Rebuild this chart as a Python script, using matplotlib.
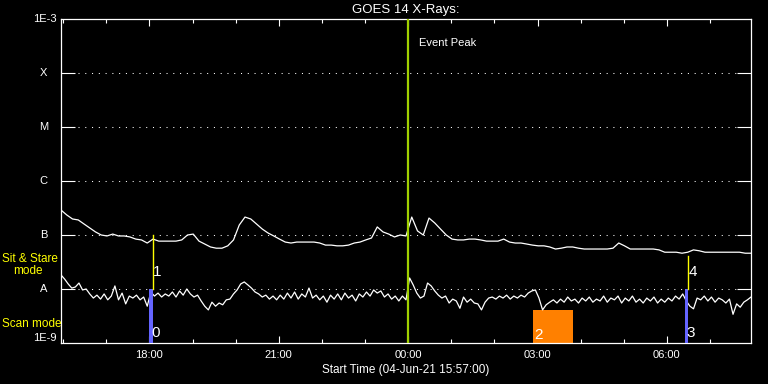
import datetime
import numpy
import matplotlib
matplotlib.use('Agg')
import matplotlib.pyplot as plt
import matplotlib.dates as mdates
import matplotlib.transforms as transforms
from matplotlib.ticker import NullLocator

start = datetime.datetime(2021, 6, 4, 15, 57)
span_minutes = 960

# long channel, 1e-7 W/m^2, one value every 8 minutes
long_step = 8
long_flux = [2.90, 2.35, 1.98, 1.90, 1.60, 1.35, 1.14, 1.00, 0.96, 1.04,
             0.96, 0.96, 0.92, 0.84, 0.81, 0.71, 0.84, 0.77, 0.77, 0.77,
             0.77, 0.81, 1.00, 1.04, 0.77, 0.68, 0.60, 0.57, 0.57, 0.63,
             0.81, 1.53, 2.15, 1.98, 1.60, 1.29, 1.09, 0.96, 0.84, 0.74,
             0.71, 0.74, 0.74, 0.74, 0.74, 0.71, 0.65, 0.65, 0.63, 0.63,
             0.65, 0.71, 0.74, 0.81, 0.88, 1.41, 1.14, 1.04, 0.92, 1.00,
             0.96, 2.15, 1.19, 1.00, 2.06, 1.67, 1.29, 1.00, 0.84, 0.81,
             0.81, 0.84, 0.84, 0.81, 0.77, 0.77, 0.77, 0.84, 0.74, 0.71,
             0.71, 0.68, 0.65, 0.63, 0.63, 0.60, 0.55, 0.57, 0.60, 0.60,
             0.57, 0.55, 0.55, 0.55, 0.55, 0.55, 0.57, 0.71, 0.63, 0.55,
             0.55, 0.55, 0.55, 0.55, 0.53, 0.48, 0.48, 0.48, 0.46, 0.48,
             0.53, 0.51, 0.48, 0.48, 0.48, 0.48, 0.48, 0.48, 0.48, 0.46,
             0.46]

# short channel, 1e-9 W/m^2, one value every 5 minutes
short_step = 5
short_flux = [18.2, 15.3, 12.4, 10.4, 10.9, 12.9, 9.6, 10.0, 8.1, 6.8,
              7.7, 6.5, 8.1, 6.3, 7.4, 11.4, 6.3, 8.4, 5.3, 7.4,
              6.8, 7.7, 6.3, 7.1, 4.8, 8.8, 7.4, 8.4, 7.1, 8.1,
              7.4, 8.8, 7.1, 9.2, 7.7, 10.0, 8.1, 7.1, 7.7, 6.0,
              4.8, 4.1, 5.7, 4.8, 5.5, 5.1, 6.3, 6.5, 8.1, 9.6,
              12.4, 13.5, 11.9, 10.4, 8.8, 8.1, 7.1, 7.7, 6.5, 7.4,
              6.3, 7.7, 6.5, 8.4, 6.8, 8.8, 6.5, 8.1, 7.1, 10.4,
              6.8, 7.7, 6.3, 7.4, 5.7, 7.7, 6.5, 8.1, 6.3, 8.4,
              6.8, 7.7, 6.0, 8.1, 7.1, 8.8, 7.4, 9.6, 8.4, 9.2,
              7.1, 8.1, 6.5, 7.4, 6.0, 7.4, 6.3, 16.0, 11.9, 8.4,
              6.8, 7.4, 12.9, 11.4, 9.2, 7.7, 6.8, 7.4, 5.5, 6.5,
              6.0, 4.4, 7.1, 5.7, 6.5, 5.5, 5.3, 4.1, 5.7, 6.8,
              7.1, 6.5, 7.4, 6.8, 7.7, 6.5, 7.4, 6.8, 7.7, 7.1,
              8.4, 9.2, 9.6, 6.8, 4.1, 5.1, 5.7, 6.3, 5.5, 6.5,
              5.7, 7.1, 6.0, 6.5, 5.5, 6.8, 6.0, 7.1, 5.7, 6.5,
              6.0, 7.4, 5.7, 6.8, 6.3, 7.4, 5.5, 6.8, 6.0, 7.4,
              5.7, 6.5, 5.5, 6.8, 6.0, 7.1, 5.5, 6.5, 5.7, 6.8,
              6.0, 7.4, 6.5, 8.1, 6.0, 4.8, 4.3, 6.8, 6.3, 7.4,
              6.0, 7.1, 5.7, 6.8, 6.3, 5.5, 6.5, 3.4, 5.3, 4.6,
              5.7, 6.3, 7.1]

level_names = ['1E-9', 'A', 'B', 'C', 'M', 'X', '1E-3']
level_values = [1e-9, 1e-8, 1e-7, 1e-6, 1e-5, 1e-4, 1e-3]

peak_minute = 483
# mode changes (minutes from start)
scan_bars = [(123, 128), (868, 873)]
stare_lines = [(128, 1e-7), (872, 4.1e-8)]
orange_box = (657, 712, 4.1e-9)
mark_labels = ['0', '1', '2', '3', '4']
mark_minutes = [131, 134, 664, 876, 879]
mark_flux = [1.5e-9, 2.1e-8, 1.4e-9, 1.5e-9, 2.1e-8]


def at(minutes):
    return start + datetime.timedelta(minutes=float(minutes))


plt.rcParams['font.family'] = ['Liberation Sans', 'DejaVu Sans']

fig = plt.figure(figsize=(7.68, 3.84), dpi=100, facecolor='black')
ax = fig.add_axes([61 / 768, 41 / 384, 690 / 768, 324 / 384], facecolor='black')

t_long = [at(m) for m in numpy.arange(len(long_flux)) * long_step]
t_short = [at(m) for m in numpy.arange(len(short_flux)) * short_step]

ax.plot(t_long, numpy.array(long_flux) * 1e-7, color='white', lw=0.9, zorder=3)
ax.plot(t_short, numpy.array(short_flux) * 1e-9, color='white', lw=0.9, zorder=3)

# dotted class levels
ytrans = transforms.blended_transform_factory(ax.transAxes, ax.transData)
for v in level_values[1:-1]:
    ax.plot([0.025, 0.978], [v, v], color='white', lw=0.75, linestyle=(0, (1, 5.5)),
            transform=ytrans, zorder=1)

for a, b in scan_bars:
    ax.fill_between([at(a), at(b)], 1e-9, 1e-8, color='#6464ff', lw=0, zorder=4)
for m, top in stare_lines:
    ax.plot([at(m), at(m)], [1e-8, top], color='yellow', lw=1.0, zorder=4)
ax.fill_between([at(orange_box[0]), at(orange_box[1])], 1e-9, orange_box[2],
                color='#ff8000', lw=0, zorder=2)
for lab, m, f in zip(mark_labels, mark_minutes, mark_flux):
    ax.text(at(m), f, lab, color='white', fontsize=11, ha='center', va='center', zorder=5)

ax.axvline(at(peak_minute), color='#a0d000', lw=1.6, zorder=5)
ax.text(at(peak_minute + 15), 10 ** -3.45, 'Event Peak', color='white', fontsize=8,
        ha='left', va='center')

ax.set_yscale('log')
ax.set_ylim(1e-9, 1e-3)
ax.set_xlim(at(0), at(span_minutes))
ax.set_yticks(level_values[1:-1])
ax.yaxis.set_minor_locator(NullLocator())
ax.tick_params(axis='y', which='major', direction='in', length=10, width=0.8,
               color='white', left=True, right=True, labelleft=False)

for name, v in zip(level_names, level_values):
    if name.startswith('1E'):
        ax.text(-0.006, v * (1.25 if v < 1e-8 else 1.0), name, color='white', fontsize=8,
                ha='right', va='center', transform=ytrans)
    else:
        ax.text(-0.025, v, name, color='white', fontsize=8, ha='center', va='center',
                transform=ytrans)

ax.xaxis.set_major_locator(mdates.HourLocator(byhour=range(0, 24, 3)))
ax.xaxis.set_minor_locator(mdates.HourLocator())
ax.xaxis.set_major_formatter(mdates.DateFormatter('%H:%M'))
ax.tick_params(axis='x', which='major', direction='in', length=5, width=0.8,
               color='white', top=True, bottom=True, labelcolor='white',
               labelsize=8, pad=5)
ax.tick_params(axis='x', which='minor', direction='in', length=3, width=0.8,
               color='white', top=True, bottom=True)

for s in ax.spines.values():
    s.set_color('white')
    s.set_linewidth(0.9)

ax.set_title('GOES 14 X-Rays:', color='white', fontsize=9.5, pad=4)
ax.set_xlabel('Start Time (04-Jun-21 15:57:00)', color='white', fontsize=8.5, labelpad=3)

fig.text(2 / 768, 1 - 259 / 384, 'Sit & Stare', color='yellow', fontsize=8.5, ha='left', va='center')
fig.text(13 / 768, 1 - 271 / 384, 'mode', color='yellow', fontsize=8.5, ha='left', va='center')
fig.text(2 / 768, 1 - 324 / 384, 'Scan mode', color='yellow', fontsize=8.5, ha='left', va='center')

plt.savefig('out.png', dpi=100, facecolor='black')
